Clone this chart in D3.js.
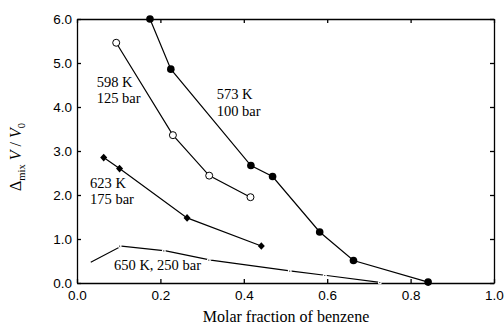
<!DOCTYPE html>
<html>
<head>
<meta charset="utf-8">
<script src="https://cdn.jsdelivr.net/npm/d3@7"></script>
<style>
  body { margin: 0; background: #fff; }
</style>
</head>
<body>
<div id="chart"></div>
<script>
// Molar fraction of benzene (x) and Δmix V / V0 (y) for each isotherm
var x573 = [0.175, 0.225, 0.417, 0.469, 0.582, 0.663, 0.842];
var y573 = [6.00, 4.86, 2.67, 2.42, 1.16, 0.51, 0.02];

var x598 = [0.094, 0.230, 0.317, 0.416];
var y598 = [5.46, 3.36, 2.44, 1.95];

var x623 = [0.064, 0.102, 0.264, 0.442];
var y623 = [2.85, 2.60, 1.48, 0.84];

var x650 = [0.033, 0.107, 0.213, 0.321, 0.515, 0.599, 0.731];
var y650 = [0.47, 0.84, 0.73, 0.52, 0.27, 0.17, 0.01];

var xTicks = [0, 0.2, 0.4, 0.6, 0.8, 1.0];
var yTicks = [0, 1, 2, 3, 4, 5, 6];

var serif = "Liberation Serif";
var sans = "Liberation Sans";

var zip = function(xs, ys) {
    return xs.map(function(d, i) { return {x: d, y: ys[i]}; });
};

var width = 504, height = 326;
var margin = {top: 19, right: 10, bottom: 43, left: 77};
var w = width - margin.left - margin.right,
    h = height - margin.top - margin.bottom;

var svg = d3.select("#chart").append("svg")
    .attr("width", width)
    .attr("height", height);

var g = svg.append("g")
    .attr("transform", "translate(" + margin.left + "," + margin.top + ")");

var x = d3.scaleLinear().domain([0, 1]).range([0, w]);
var y = d3.scaleLinear().domain([0, 6]).range([h, 0]);

var fmt = d3.format(".1f");

// axes, ticks pointing inward
g.append("g").attr("class", "x axis")
    .attr("transform", "translate(0," + h + ")")
    .call(d3.axisBottom(x).tickValues(xTicks).tickFormat(fmt).tickSizeInner(-4).tickSizeOuter(0).tickPadding(7));
g.append("g").attr("class", "x axis top")
    .call(d3.axisTop(x).tickValues(xTicks).tickFormat("").tickSizeInner(-4).tickSizeOuter(0));
g.append("g").attr("class", "y axis")
    .call(d3.axisLeft(y).tickValues(yTicks).tickFormat(fmt).tickSizeInner(-4).tickSizeOuter(0).tickPadding(5));
g.append("g").attr("class", "y axis right")
    .attr("transform", "translate(" + w + ",0)")
    .call(d3.axisRight(y).tickValues(yTicks).tickFormat("").tickSizeInner(-4).tickSizeOuter(0));

g.selectAll(".axis path, .axis line").attr("stroke", "#000").attr("stroke-width", 1.3);
g.selectAll(".axis text").attr("font-family", sans).attr("font-size", 13.5).attr("fill", "#000");

var line = d3.line()
    .x(function(d) { return x(d.x); })
    .y(function(d) { return y(d.y); });

var d573 = zip(x573, y573), d598 = zip(x598, y598),
    d623 = zip(x623, y623), d650 = zip(x650, y650);

[d573, d598, d623, d650].forEach(function(data) {
    g.append("path")
        .attr("d", line(data))
        .attr("fill", "none")
        .attr("stroke", "#000")
        .attr("stroke-width", 1.2);
});

// 650 K points: small gaps with a dot
g.selectAll(".p650").data(d650.slice(1)).enter().append("circle")
    .attr("cx", function(d) { return x(d.x) - 2; })
    .attr("cy", function(d) { return y(d.y); })
    .attr("r", 2).attr("fill", "#fff");
g.selectAll(".q650").data(d650.slice(1)).enter().append("circle")
    .attr("cx", function(d) { return x(d.x) - 2; })
    .attr("cy", function(d) { return y(d.y); })
    .attr("r", 0.6).attr("fill", "#000");

g.selectAll(".p573").data(d573).enter().append("circle")
    .attr("cx", function(d) { return x(d.x); })
    .attr("cy", function(d) { return y(d.y); })
    .attr("r", 3.8).attr("fill", "#000");

g.selectAll(".p598").data(d598).enter().append("circle")
    .attr("cx", function(d) { return x(d.x); })
    .attr("cy", function(d) { return y(d.y); })
    .attr("r", 3.5).attr("fill", "#fff").attr("stroke", "#000").attr("stroke-width", 1);

g.selectAll(".p623").data(d623).enter().append("path")
    .attr("transform", function(d) { return "translate(" + x(d.x) + "," + y(d.y) + ")"; })
    .attr("d", "M0,-3.8L3.5,0L0,3.8L-3.5,0Z")
    .attr("fill", "#000");

// curve labels
var labels = [
    {t: "598 K", px: 96.7, py: 87}, {t: "125 bar", px: 96.7, py: 103},
    {t: "573 K", px: 216.7, py: 99}, {t: "100 bar", px: 216.7, py: 115.7},
    {t: "623 K", px: 90, py: 188.3}, {t: "175 bar", px: 90, py: 204.3},
    {t: "650 K, 250 bar", px: 114, py: 270}
];
svg.selectAll(".curve").data(labels).enter().append("text")
    .attr("font-family", serif).attr("font-size", 14.5)
    .attr("x", function(d) { return d.px; })
    .attr("y", function(d) { return d.py; })
    .text(function(d) { return d.t; });

// axis titles
svg.append("text")
    .attr("font-family", serif).attr("font-size", 16)
    .attr("x", 286).attr("y", 322)
    .attr("text-anchor", "middle")
    .text("Molar fraction of benzene");

var yt = svg.append("text")
    .attr("font-family", serif).attr("font-size", 16)
    .attr("transform", "translate(20.5,157) rotate(-90)")
    .attr("text-anchor", "middle");
yt.append("tspan").text("\u0394");
yt.append("tspan").attr("font-size", 10.5).attr("dy", 4).text("mix");
yt.append("tspan").attr("dy", -4).attr("font-style", "italic").text(" V");
yt.append("tspan").text(" / ");
yt.append("tspan").attr("font-style", "italic").text("V");
yt.append("tspan").attr("font-size", 10.5).attr("dy", 4).text("0");
</script>
</body>
</html>
